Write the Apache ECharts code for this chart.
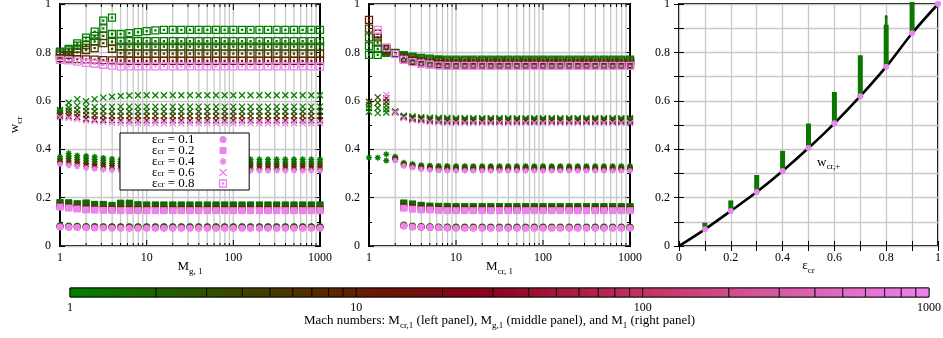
<!DOCTYPE html>
<html>
<head>
<meta charset="utf-8">
<script src="https://cdn.jsdelivr.net/npm/echarts@6/dist/echarts.min.js"></script>
<style>
  html, body { margin: 0; padding: 0; background: #fff; }
  #chart { width: 943px; height: 338px; }
</style>
</head>
<body>
<div id="chart"></div>
<script>
const FONT = 'Liberation Serif'

// Mach number columns of the two left panels (10 per decade)
const machCols = [1, 1.26, 1.58, 2, 2.51, 3.16, 3.98, 5.01, 6.31, 7.94,
  10, 12.6, 15.8, 20, 25.1, 31.6, 39.8, 50.1, 63.1, 79.4,
  100, 126, 158, 200, 251, 316, 398, 501, 631, 794, 1000]
// log grid / colorbar segment positions
const logTicks = [1, 2, 3, 4, 5, 6, 7, 8, 9, 10, 20, 30, 40, 50, 60, 70, 80, 90,
  100, 200, 300, 400, 500, 600, 700, 800, 900, 1000]
const majorTicks = [1, 10, 100, 1000]

// ---- left panel: w_cr vs M_g,1, one array per colour level M_cr,1 ----
const lft01_1 = [0.084,0.083,0.082,0.081,0.081,0.080,0.080,0.080,0.080,0.080,
  0.080,0.080,0.080,0.080,0.080,0.080,0.080, 0.080,0.080,0.080,0.080,0.080,0.080,0.080, 0.080,0.080,0.080,0.080,0.080,0.080,0.080]
const lft01_2 = [0.082,0.081,0.080,0.079,0.079,0.078,0.078,0.078,0.078,0.078,
  0.078,0.078,0.078,0.078,0.078,0.078,0.078, 0.078,0.078,0.078,0.078,0.078,0.078,0.078, 0.078,0.078,0.078,0.078,0.078,0.078,0.078]
const lft01_12 = [0.080,0.079,0.078,0.077,0.076,0.076,0.076,0.076,0.075,0.075,
  0.075,0.075,0.075,0.075,0.075,0.075,0.075, 0.075,0.075,0.075,0.075,0.075,0.075,0.075, 0.075,0.075,0.075,0.075,0.075,0.075,0.075]
const lft01_1000 = [0.078,0.077,0.076,0.075,0.074,0.074,0.073,0.073,0.073,0.073,
  0.073,0.073,0.073,0.073,0.073,0.073,0.073, 0.073,0.073,0.073,0.073,0.073,0.073,0.073, 0.073,0.073,0.073,0.073,0.073,0.073,0.073]

const lft02_1 = [0.180,0.179,0.175,0.178,0.172,0.172,0.168,0.177,0.177,0.171,
  0.170,0.170,0.170,0.170,0.170,0.170,0.170, 0.170,0.170,0.170,0.170,0.170,0.170,0.170, 0.170,0.170,0.170,0.170,0.170,0.170,0.170]
const lft02_2 = [0.177,0.176,0.172,0.175,0.169,0.169,0.165,0.174,0.174,0.168,
  0.167,0.167,0.167,0.167,0.167,0.167,0.167, 0.167,0.167,0.167,0.167,0.167,0.167,0.167, 0.167,0.167,0.167,0.167,0.167,0.167,0.167]
const lft02_12 = [0.165,0.161,0.157,0.153,0.152,0.151,0.151,0.150,0.150,0.150,
  0.150,0.150,0.150,0.150,0.150,0.150,0.150, 0.150,0.150,0.150,0.150,0.150,0.150,0.150, 0.150,0.150,0.150,0.150,0.150,0.150,0.150]
const lft02_1000 = [0.161,0.157,0.153,0.149,0.148,0.147,0.147,0.146,0.146,0.146,
  0.146,0.146,0.146,0.146,0.146,0.146,0.146, 0.146,0.146,0.146,0.146,0.146,0.146,0.146, 0.146,0.146,0.146,0.146,0.146,0.146,0.146]

const lft04_1 = [0.369,0.383,0.374,0.372,0.369,0.364,0.360,0.358,0.358,0.358,
  0.358,0.358,0.358,0.358,0.358,0.358,0.358, 0.358,0.358,0.358,0.358,0.358,0.358,0.358, 0.358,0.358,0.358,0.358,0.358,0.358,0.358]
const lft04_126 = [0.362,0.372,0.366,0.362,0.358,0.354,0.350,0.349,0.348,0.348,
  0.348,0.348,0.348,0.348,0.348,0.348,0.348, 0.348,0.348,0.348,0.348,0.348,0.348,0.348, 0.348,0.348,0.348,0.348,0.348,0.348,0.348]
const lft04_2 = [0.356,0.362,0.357,0.352,0.348,0.344,0.341,0.340,0.339,0.339,
  0.339,0.339,0.339,0.339,0.339,0.339,0.339, 0.339,0.339,0.339,0.339,0.339,0.339,0.339, 0.339,0.339,0.339,0.339,0.339,0.339,0.339]
const lft04_5 = [0.349,0.351,0.346,0.341,0.337,0.334,0.332,0.330,0.330,0.330,
  0.330,0.330,0.330,0.330,0.330,0.330,0.330, 0.330,0.330,0.330,0.330,0.330,0.330,0.330, 0.330,0.330,0.330,0.330,0.330,0.330,0.330]
const lft04_12 = [0.343,0.339,0.335,0.329,0.325,0.322,0.320,0.319,0.318,0.318,
  0.318,0.318,0.318,0.318,0.318,0.318,0.318, 0.318,0.318,0.318,0.318,0.318,0.318,0.318, 0.318,0.318,0.318,0.318,0.318,0.318,0.318]
const lft04_1000 = [0.338,0.333,0.329,0.322,0.318,0.315,0.313,0.312,0.311,0.311,
  0.311,0.311,0.311,0.311,0.311,0.311,0.311, 0.311,0.311,0.311,0.311,0.311,0.311,0.311, 0.311,0.311,0.311,0.311,0.311,0.311,0.311]

const lft06_1 = [0.562,0.592,0.607,0.598,0.607,0.613,0.617,0.620,0.622,0.623,
  0.623,0.623,0.623,0.623,0.623,0.623,0.623, 0.623,0.623,0.623,0.623,0.623,0.623,0.623, 0.623,0.623,0.623,0.623,0.623,0.623,0.623]
const lft06_126 = [0.556,0.572,0.580,0.574,0.575,0.576,0.576,0.576,0.576,0.576,
  0.576,0.576,0.576,0.576,0.576,0.576,0.576, 0.576,0.576,0.576,0.576,0.576,0.576,0.576, 0.576,0.576,0.576,0.576,0.576,0.576,0.576]
const lft06_2 = [0.550,0.560,0.562,0.558,0.557,0.557,0.556,0.556,0.556,0.556,
  0.556,0.556,0.556,0.556,0.556,0.556,0.556, 0.556,0.556,0.556,0.556,0.556,0.556,0.556, 0.556,0.556,0.556,0.556,0.556,0.556,0.556]
const lft06_5 = [0.544,0.548,0.547,0.541,0.539,0.538,0.537,0.537,0.537,0.537,
  0.537,0.537,0.537,0.537,0.537,0.537,0.537, 0.537,0.537,0.537,0.537,0.537,0.537,0.537, 0.537,0.537,0.537,0.537,0.537,0.537,0.537]
const lft06_12 = [0.537,0.536,0.533,0.526,0.523,0.521,0.520,0.519,0.519,0.519,
  0.519,0.519,0.519,0.519,0.519,0.519,0.519, 0.519,0.519,0.519,0.519,0.519,0.519,0.519, 0.519,0.519,0.519,0.519,0.519,0.519,0.519]
const lft06_1000 = [0.532,0.529,0.525,0.518,0.515,0.512,0.509,0.508,0.507,0.507,
  0.507,0.507,0.507,0.507,0.507,0.507,0.507, 0.507,0.507,0.507,0.507,0.507,0.507,0.507, 0.507,0.507,0.507,0.507,0.507,0.507,0.507]

const lft08_1 = [0.803,0.814,0.837,0.861,0.886,0.931,0.944,0.876,0.880,0.884,
  0.888,0.891,0.893,0.893,0.893,0.893,0.893, 0.893,0.893,0.893,0.893,0.893,0.893,0.893, 0.893,0.893,0.893,0.893,0.893,0.893,0.893]
const lft08_126 = [0.800,0.808,0.828,0.848,0.868,0.899,0.876,0.847,0.847,0.847,
  0.847,0.847,0.847,0.847,0.847,0.847,0.847, 0.847,0.847,0.847,0.847,0.847,0.847,0.847, 0.847,0.847,0.847,0.847,0.847,0.847,0.847]
const lft08_2 = [0.795,0.800,0.815,0.830,0.845,0.868,0.844,0.824,0.824,0.824,
  0.824,0.824,0.824,0.824,0.824,0.824,0.824, 0.824,0.824,0.824,0.824,0.824,0.824,0.824, 0.824,0.824,0.824,0.824,0.824,0.824,0.824]
const lft08_5 = [0.788,0.790,0.800,0.810,0.818,0.838,0.815,0.797,0.796,0.795,
  0.795,0.795,0.795,0.795,0.795,0.795,0.795, 0.795,0.795,0.795,0.795,0.795,0.795,0.795, 0.795,0.795,0.795,0.795,0.795,0.795,0.795]
const lft08_12 = [0.776,0.774,0.772,0.771,0.770,0.768,0.767,0.766,0.765,0.765,
  0.765,0.765,0.765,0.765,0.765,0.765,0.765, 0.765,0.765,0.765,0.765,0.765,0.765,0.765, 0.765,0.765,0.765,0.765,0.765,0.765,0.765]
const lft08_1000 = [0.769,0.767,0.762,0.757,0.753,0.749,0.745,0.742,0.742,0.742,
  0.742,0.742,0.742,0.742,0.742,0.742,0.742, 0.742,0.742,0.742,0.742,0.742,0.742,0.742, 0.742,0.742,0.742,0.742,0.742,0.742,0.742]

// ---- middle panel: w_cr vs M_cr,1, one array per colour level M_g,1 ----
const mid01_1 = [null,null,null,null,0.087,0.083,0.081,0.080,0.079,0.079,
  0.078,0.078,0.078,0.078,0.078,0.078,0.078, 0.078,0.078,0.078,0.078,0.078,0.078,0.078, 0.078,0.078,0.078,0.078,0.078,0.078,0.078]
const mid01_2 = [null,null,null,null,0.085,0.081,0.079,0.078,0.077,0.077,
  0.076,0.076,0.076,0.076,0.076,0.076,0.076, 0.076,0.076,0.076,0.076,0.076,0.076,0.076, 0.076,0.076,0.076,0.076,0.076,0.076,0.076]
const mid01_12 = [null,null,null,null,0.084,0.080,0.078,0.077,0.076,0.075,
  0.075,0.075,0.075,0.075,0.075,0.075,0.075, 0.075,0.075,0.075,0.075,0.075,0.075,0.075, 0.075,0.075,0.075,0.075,0.075,0.075,0.075]
const mid01_1000 = [null,null,null,null,0.083,0.079,0.077,0.076,0.075,0.074,
  0.073,0.073,0.073,0.073,0.073,0.073,0.073, 0.073,0.073,0.073,0.073,0.073,0.073,0.073, 0.073,0.073,0.073,0.073,0.073,0.073,0.073]

const mid02_1 = [null,null,null,null,0.178,0.174,0.168,0.165,0.164,0.164,
  0.163,0.163,0.163,0.163,0.163,0.163,0.163, 0.163,0.163,0.163,0.163,0.163,0.163,0.163, 0.163,0.163,0.163,0.163,0.163,0.163,0.163]
const mid02_2 = [null,null,null,null,0.175,0.171,0.165,0.162,0.161,0.161,
  0.160,0.160,0.160,0.160,0.160,0.160,0.160, 0.160,0.160,0.160,0.160,0.160,0.160,0.160, 0.160,0.160,0.160,0.160,0.160,0.160,0.160]
const mid02_12 = [null,null,null,null,0.161,0.157,0.154,0.153,0.151,0.150,
  0.150,0.150,0.150,0.150,0.150,0.150,0.150, 0.150,0.150,0.150,0.150,0.150,0.150,0.150, 0.150,0.150,0.150,0.150,0.150,0.150,0.150]
const mid02_1000 = [null,null,null,null,0.156,0.152,0.149,0.149,0.147,0.146,
  0.146,0.146,0.146,0.146,0.146,0.146,0.146, 0.146,0.146,0.146,0.146,0.146,0.146,0.146, 0.146,0.146,0.146,0.146,0.146,0.146,0.146]

const mid04_1 = [0.365,0.365,0.379,0.369,0.344,0.339,0.334,0.332,0.331,0.331,
  0.330,0.330,0.330,0.330,0.330,0.330,0.330, 0.330,0.330,0.330,0.330,0.330,0.330,0.330, 0.330,0.330,0.330,0.330,0.330,0.330,0.330]
const mid04_126 = [null,null,0.353,0.366,0.341,0.336,0.331,0.329,0.328,0.328,
  0.327,0.327,0.327,0.327,0.327,0.327,0.327, 0.327,0.327,0.327,0.327,0.327,0.327,0.327, 0.327,0.327,0.327,0.327,0.327,0.327,0.327]
const mid04_2 = [null,null,null,0.363,0.338,0.333,0.328,0.326,0.325,0.325,
  0.324,0.324,0.324,0.324,0.324,0.324,0.324, 0.324,0.324,0.324,0.324,0.324,0.324,0.324, 0.324,0.324,0.324,0.324,0.324,0.324,0.324]
const mid04_5 = [null,null,null,0.360,0.336,0.330,0.325,0.322,0.321,0.320,
  0.320,0.320,0.320,0.320,0.320,0.320,0.320, 0.320,0.320,0.320,0.320,0.320,0.320,0.320, 0.320,0.320,0.320,0.320,0.320,0.320,0.320]
const mid04_12 = [null,null,null,0.357,0.334,0.327,0.321,0.318,0.316,0.315,
  0.315,0.315,0.315,0.315,0.315,0.315,0.315, 0.315,0.315,0.315,0.315,0.315,0.315,0.315, 0.315,0.315,0.315,0.315,0.315,0.315,0.315]
const mid04_1000 = [null,null,null,0.353,0.331,0.324,0.317,0.314,0.312,0.311,
  0.311,0.311,0.311,0.311,0.311,0.311,0.311, 0.311,0.311,0.311,0.311,0.311,0.311,0.311, 0.311,0.311,0.311,0.311,0.311,0.311,0.311]

const mid06_1 = [0.555,0.549,0.552,0.556,0.538,0.535,0.532,0.530,0.529,0.529,
  0.528,0.528,0.528,0.528,0.528,0.528,0.528, 0.528,0.528,0.528,0.528,0.528,0.528,0.528, 0.528,0.528,0.528,0.528,0.528,0.528,0.528]
const mid06_126 = [0.570,0.570,0.565,0.555,0.536,0.532,0.529,0.527,0.526,0.525,
  0.525,0.525,0.525,0.525,0.525,0.525,0.525, 0.525,0.525,0.525,0.525,0.525,0.525,0.525, 0.525,0.525,0.525,0.525,0.525,0.525,0.525]
const mid06_2 = [0.583,0.592,0.580,0.554,0.534,0.529,0.526,0.523,0.522,0.521,
  0.521,0.521,0.521,0.521,0.521,0.521,0.521, 0.521,0.521,0.521,0.521,0.521,0.521,0.521, 0.521,0.521,0.521,0.521,0.521,0.521,0.521]
const mid06_5 = [0.596,0.614,0.595,0.553,0.532,0.526,0.523,0.519,0.517,0.516,
  0.516,0.516,0.516,0.516,0.516,0.516,0.516, 0.516,0.516,0.516,0.516,0.516,0.516,0.516, 0.516,0.516,0.516,0.516,0.516,0.516,0.516]
const mid06_12 = [null,null,0.610,0.552,0.531,0.524,0.520,0.515,0.513,0.512,
  0.512,0.512,0.512,0.512,0.512,0.512,0.512, 0.512,0.512,0.512,0.512,0.512,0.512,0.512, 0.512,0.512,0.512,0.512,0.512,0.512,0.512]
const mid06_1000 = [null,null,0.624,0.552,0.529,0.521,0.517,0.512,0.510,0.508,
  0.508,0.508,0.508,0.508,0.508,0.508,0.508, 0.508,0.508,0.508,0.508,0.508,0.508,0.508, 0.508,0.508,0.508,0.508,0.508,0.508,0.508]

const mid08_1 = [0.790,0.790,0.798,0.798,0.789,0.782,0.777,0.774,0.771,0.770,
  0.770,0.770,0.770,0.770,0.770,0.770,0.770, 0.770,0.770,0.770,0.770,0.770,0.770,0.770, 0.770,0.770,0.770,0.770,0.770,0.770,0.770]
const mid08_126 = [0.826,0.815,0.802,0.797,0.786,0.779,0.774,0.771,0.768,0.767,
  0.767,0.767,0.767,0.767,0.767,0.767,0.767, 0.767,0.767,0.767,0.767,0.767,0.767,0.767, 0.767,0.767,0.767,0.767,0.767,0.767,0.767]
const mid08_2 = [0.862,0.840,0.806,0.796,0.782,0.775,0.770,0.767,0.764,0.763,
  0.763,0.763,0.763,0.763,0.763,0.763,0.763, 0.763,0.763,0.763,0.763,0.763,0.763,0.763, 0.763,0.763,0.763,0.763,0.763,0.763,0.763]
const mid08_5 = [0.898,0.862,0.810,0.795,0.778,0.770,0.765,0.762,0.759,0.758,
  0.758,0.758,0.758,0.758,0.758,0.758,0.758, 0.758,0.758,0.758,0.758,0.758,0.758,0.758, 0.758,0.758,0.758,0.758,0.758,0.758,0.758]
const mid08_12 = [0.934,0.877,0.815,0.794,0.774,0.765,0.759,0.755,0.751,0.750,
  0.750,0.750,0.750,0.750,0.750,0.750,0.750, 0.750,0.750,0.750,0.750,0.750,0.750,0.750, 0.750,0.750,0.750,0.750,0.750,0.750,0.750]
const mid08_1000 = [null,0.893,0.821,0.793,0.769,0.760,0.753,0.749,0.745,0.744,
  0.744,0.744,0.744,0.744,0.744,0.744,0.744, 0.744,0.744,0.744,0.744,0.744,0.744,0.744, 0.744,0.744,0.744,0.744,0.744,0.744,0.744]

// ---- right panel: w_cr vs eps_cr ----
const rgtEps = [0.1, 0.2, 0.3, 0.4, 0.5, 0.6, 0.7, 0.8, 0.9, 1.0]
const rgtLow = [0.069, 0.145, 0.223, 0.310, 0.405, 0.507, 0.619, 0.741, 0.879, 1.0]   // M_1 = 1000
const rgtTop = [0.088, 0.180, 0.285, 0.385, 0.498, 0.628, 0.780, 0.906, 1.0, 1.0]    // M_1 = 1
const rgtSparse08 = [0.913, 0.922, 0.931, 0.940, 0.948]
const curveEps = [0, 0.1, 0.2, 0.3, 0.4, 0.5, 0.6, 0.7, 0.8, 0.9, 1.0]
const curveW = [0, 0.069, 0.145, 0.223, 0.310, 0.405, 0.507, 0.619, 0.741, 0.879, 1.0]

// colour palette of the colorbar (green -> dark red -> violet, log scale)
const cbStops = [[0, [0, 128, 0]], [0.33, [100, 30, 0]], [0.48, [135, 0, 25]], [0.7, [200, 60, 110]], [1, [238, 130, 238]]]
function machColor(m) {
  const t = Math.min(1, Math.max(0, Math.log10(m) / 3))
  for (let i = 1; i < cbStops.length; i++) {
    if (t <= cbStops[i][0] + 1e-9) {
      const [t0, c0] = cbStops[i - 1]
      const [t1, c1] = cbStops[i]
      const f = (t - t0) / (t1 - t0)
      return 'rgb(' + c0.map((c, k) => Math.round(c + (c1[k] - c) * f)).join(',') + ')'
    }
  }
  return 'rgb(238,130,238)'
}

const symStar = 'path://M5,0L5,10M0,5L10,5M1.5,1.5L8.5,8.5M8.5,1.5L1.5,8.5'
const symX = 'path://M0,0L10,10M10,0L0,10'
const symBox = 'path://M0,0L10,0L10,10L0,10ZM4.3,4.3L5.7,4.3L5.7,5.7L4.3,5.7Z'

const epsDefs = {
  '0.1': {sym: 'circle', size: 7, kind: 'fill'},
  '0.2': {sym: 'rect', size: 7, kind: 'fill'},
  '0.4': {sym: symStar, size: 6, kind: 'both'},
  '0.6': {sym: symX, size: 6, kind: 'line'},
  '0.8': {sym: symBox, size: 7, kind: 'line'}
}

// [panel, eps, colour Mach number, values]
const levelTable = [
  [0, '0.1', 1, lft01_1], [0, '0.1', 2, lft01_2], [0, '0.1', 12, lft01_12], [0, '0.1', 1000, lft01_1000],
  [0, '0.2', 1, lft02_1], [0, '0.2', 2, lft02_2], [0, '0.2', 12, lft02_12], [0, '0.2', 1000, lft02_1000],
  [0, '0.4', 1, lft04_1], [0, '0.4', 1.26, lft04_126], [0, '0.4', 2, lft04_2], [0, '0.4', 5, lft04_5], [0, '0.4', 12, lft04_12], [0, '0.4', 1000, lft04_1000],
  [0, '0.6', 1, lft06_1], [0, '0.6', 1.26, lft06_126], [0, '0.6', 2, lft06_2], [0, '0.6', 5, lft06_5], [0, '0.6', 12, lft06_12], [0, '0.6', 1000, lft06_1000],
  [0, '0.8', 1, lft08_1], [0, '0.8', 1.26, lft08_126], [0, '0.8', 2, lft08_2], [0, '0.8', 5, lft08_5], [0, '0.8', 12, lft08_12], [0, '0.8', 1000, lft08_1000],
  [1, '0.1', 1, mid01_1], [1, '0.1', 2, mid01_2], [1, '0.1', 12, mid01_12], [1, '0.1', 1000, mid01_1000],
  [1, '0.2', 1, mid02_1], [1, '0.2', 2, mid02_2], [1, '0.2', 12, mid02_12], [1, '0.2', 1000, mid02_1000],
  [1, '0.4', 1, mid04_1], [1, '0.4', 1.26, mid04_126], [1, '0.4', 2, mid04_2], [1, '0.4', 5, mid04_5], [1, '0.4', 12, mid04_12], [1, '0.4', 1000, mid04_1000],
  [1, '0.6', 1, mid06_1], [1, '0.6', 1.26, mid06_126], [1, '0.6', 2, mid06_2], [1, '0.6', 5, mid06_5], [1, '0.6', 12, mid06_12], [1, '0.6', 1000, mid06_1000],
  [1, '0.8', 1, mid08_1], [1, '0.8', 1.26, mid08_126], [1, '0.8', 2, mid08_2], [1, '0.8', 5, mid08_5], [1, '0.8', 12, mid08_12], [1, '0.8', 1000, mid08_1000]
]

function symStyle(kind, c) {
  if (kind === 'fill') return {color: c, opacity: 1, borderWidth: 0}
  if (kind === 'both') return {color: c, opacity: 1, borderColor: c, borderWidth: 1.3}
  return {color: 'rgba(0,0,0,0)', opacity: 1, borderColor: c, borderWidth: 1.3}
}

const rich = {
  n: {fontFamily: FONT, fontSize: 13, color: '#000', lineHeight: 18},
  s: {fontFamily: FONT, fontSize: 9, color: '#000', lineHeight: 9, verticalAlign: 'bottom'}
}
// tighter rows for the legend box
const legendRich = {
  n: {fontFamily: FONT, fontSize: 13, color: '#000', lineHeight: 11},
  s: {fontFamily: FONT, fontSize: 9, color: '#000', lineHeight: 3, verticalAlign: 'bottom'}
}
const lblStyle = {fontFamily: FONT, fontSize: 12, color: '#000'}

const series = []

// log grid lines + in-pointing ticks (1..9, 10..90, ...)
function logGridSeries(gi) {
  return {
    type: 'custom', xAxisIndex: gi, yAxisIndex: gi, silent: true, z: 1,
    data: logTicks.map(v => [v, 0]),
    renderItem: (params, api) => {
      const v = api.value(0)
      const b = api.coord([v, 0])
      const t = api.coord([v, 1])
      const len = majorTicks.includes(v) ? 6 : 3
      const kids = [
        {type: 'line', shape: {x1: b[0], y1: b[1], x2: b[0], y2: b[1] - len}, style: {stroke: '#000', lineWidth: 1}},
        {type: 'line', shape: {x1: t[0], y1: t[1], x2: t[0], y2: t[1] + len}, style: {stroke: '#000', lineWidth: 1}}
      ]
      if (v !== 1 && v !== 1000) {
        kids.unshift({type: 'line', shape: {x1: b[0], y1: b[1], x2: t[0], y2: t[1]}, style: {stroke: '#c8c8c8', lineWidth: 1.3}})
      }
      return {type: 'group', children: kids}
    }
  }
}
series.push(logGridSeries(0), logGridSeries(1))

levelTable.forEach(([gi, eps, m, vals]) => {
  const d = epsDefs[eps]
  series.push({
    type: 'scatter', name: 'eps' + eps, xAxisIndex: gi, yAxisIndex: gi, silent: true, z: 3,
    symbol: d.sym, symbolSize: d.size,
    itemStyle: symStyle(d.kind, machColor(m)),
    data: vals.map((v, i) => v == null ? null : [machCols[i], v]).filter(p => p)
  })
})

// right panel
series.push({
  type: 'line', xAxisIndex: 2, yAxisIndex: 2, silent: true, z: 2, smooth: 0.3,
  showSymbol: false, lineStyle: {color: '#000', width: 2.6},
  data: curveEps.map((e, i) => [e, curveW[i]])
})
series.push({
  type: 'custom', xAxisIndex: 2, yAxisIndex: 2, silent: true, z: 3,
  data: rgtEps.map((e, i) => [e, rgtLow[i], rgtTop[i]]),
  encode: {x: 0, y: [1, 2]},
  renderItem: (params, api) => {
    const lo = api.coord([api.value(0), api.value(1)])
    const hi = api.coord([api.value(0), api.value(2)])
    return {type: 'rect', shape: {x: lo[0] - 2.5, y: hi[1] - 2, width: 5, height: lo[1] - hi[1] + 2},
      style: {fill: 'rgb(12,118,0)'}}
  }
})
series.push({
  type: 'scatter', xAxisIndex: 2, yAxisIndex: 2, silent: true, z: 3, symbolSize: 3,
  itemStyle: {color: 'rgb(12,118,0)', opacity: 1},
  data: rgtSparse08.map(w => [0.8, w])
})
series.push({
  type: 'scatter', xAxisIndex: 2, yAxisIndex: 2, silent: true, z: 4, symbolSize: 6,
  itemStyle: {color: machColor(1000), opacity: 1},
  data: rgtEps.map((e, i) => [e, rgtLow[i]])
})

// colorbar
series.push({
  type: 'custom', xAxisIndex: 3, yAxisIndex: 3, silent: true, z: 2,
  data: logTicks.slice(0, -1).map((v, i) => [v, logTicks[i + 1]]),
  encode: {x: [0, 1]},
  renderItem: (params, api) => {
    const a = api.value(0), b = api.value(1)
    const p0 = api.coord([a, 0]), p1 = api.coord([b, 1])
    return {type: 'rect', shape: {x: p0[0], y: p1[1], width: p1[0] - p0[0], height: p0[1] - p1[1]},
      style: {fill: new echarts.graphic.LinearGradient(0, 0, 1, 0, [{offset: 0, color: machColor(a)}, {offset: 1, color: machColor(b)}]),
        stroke: '#000', lineWidth: 0.8}}
  }
})

const gridBase = {show: true, borderColor: '#000', borderWidth: 2, backgroundColor: 'transparent', containLabel: false, outerBoundsMode: 'none'}

function logX(gi, name) {
  return {
    type: 'log', logBase: 10, gridIndex: gi, min: 1, max: 1000,
    axisLine: {show: false}, axisTick: {show: false}, splitLine: {show: false},
    axisLabel: Object.assign({margin: 6, formatter: v => String(Math.round(v))}, lblStyle),
    name: name, nameLocation: 'middle', nameGap: 12, nameMoveOverlap: false, nameTextStyle: {rich: rich}
  }
}
function valY(gi, step, showLabel, name) {
  const ax = {
    type: 'value', gridIndex: gi, min: 0, max: 1, interval: step,
    axisLine: {show: false},
    axisTick: {show: true, inside: true, length: 5, lineStyle: {color: '#000'}},
    splitLine: {show: true, lineStyle: {color: '#c8c8c8', width: 1.3}},
    axisLabel: Object.assign({show: showLabel, margin: 9,
      formatter: v => (Math.round(v * 10) % 2 === 0) ? String(+v.toFixed(1)) : ''}, lblStyle)
  }
  if (step === 0.2) ax.minorTick = {show: true, splitNumber: 2, length: 3, lineStyle: {color: '#000'}}
  if (name) Object.assign(ax, {name: name, nameLocation: 'middle', nameGap: 36, nameRotate: 90, nameMoveOverlap: false, nameTextStyle: {rich: rich}})
  return ax
}
function mirrorY(gi, step) {
  const ax = valY(gi, step, false)
  ax.position = 'right'
  ax.splitLine = {show: false}
  return ax
}

const option = {
  animation: false,
  backgroundColor: '#fff',
  grid: [
    Object.assign({left: 60, top: 4, width: 260, height: 242}, gridBase),
    Object.assign({left: 369, top: 4, width: 261, height: 242}, gridBase),
    Object.assign({left: 679, top: 4, width: 259, height: 242}, gridBase),
    Object.assign({left: 70, top: 288, width: 859, height: 9}, gridBase, {borderWidth: 1})
  ],
  xAxis: [
    logX(0, '{n|M}{s|g, 1}'),
    logX(1, '{n|M}{s|cr, 1}'),
    {
      type: 'value', gridIndex: 2, min: 0, max: 1, interval: 0.1,
      axisLine: {show: false},
      axisTick: {show: true, inside: true, length: 5, lineStyle: {color: '#000'}},
      splitLine: {show: true, lineStyle: {color: '#c8c8c8', width: 1.3}},
      axisLabel: Object.assign({margin: 6, formatter: v => (Math.round(v * 10) % 2 === 0) ? String(+v.toFixed(1)) : ''}, lblStyle),
      name: '{n|ε}{s|cr}', nameLocation: 'middle', nameGap: 11, nameMoveOverlap: false, nameTextStyle: {rich: rich}
    },
    {
      type: 'log', logBase: 10, gridIndex: 3, min: 1, max: 1000,
      axisLine: {show: false}, axisTick: {show: false}, splitLine: {show: false},
      axisLabel: Object.assign({margin: 5, formatter: v => String(Math.round(v))}, lblStyle),
      name: '{n|Mach numbers: M}{s|cr,1}{n| (left panel), M}{s|g,1}{n| (middle panel), and M}{s|1}{n| (right panel)}',
      nameLocation: 'middle', nameGap: 15, nameMoveOverlap: false, nameTextStyle: {rich: rich}
    },
    {
      type: 'value', gridIndex: 2, min: 0, max: 1, interval: 0.1, position: 'top',
      axisLine: {show: false}, axisLabel: {show: false}, splitLine: {show: false},
      axisTick: {show: true, inside: true, length: 5, lineStyle: {color: '#000'}}
    }
  ],
  yAxis: [
    valY(0, 0.2, true, '{n|w}{s|cr}'),
    valY(1, 0.2, true),
    valY(2, 0.1, true),
    {type: 'value', gridIndex: 3, min: 0, max: 1, show: false},
    mirrorY(0, 0.2),
    mirrorY(1, 0.2),
    mirrorY(2, 0.1)
  ],
  legend: {
    left: 120, top: 133, orient: 'vertical', align: 'right', z: 10,
    padding: [0, 22, 0, 32], itemGap: -2, itemWidth: 7, itemHeight: 7,
    borderColor: '#000', borderWidth: 1, backgroundColor: '#fff', selectedMode: false,
    textStyle: {fontFamily: FONT, fontSize: 11, lineHeight: 11, color: '#000', padding: [0, 20, 0, 0], rich: legendRich},
    formatter: n => '{n|ε}{s|cr}{n| = ' + n.slice(3) + '}',
    data: Object.keys(epsDefs).map(k => {
      const d = epsDefs[k]
      return {name: 'eps' + k, icon: d.sym, itemStyle: symStyle(d.kind, machColor(1000))}
    })
  },
  graphic: [{
    type: 'text', left: 817, top: 156, z: 10,
    style: {text: '{n|w}{s|cr,+}', rich: rich}
  }],
  series: series
}

const chart = echarts.init(document.getElementById('chart'), null, {renderer: 'canvas'})
chart.setOption(option)
</script>
</body>
</html>
